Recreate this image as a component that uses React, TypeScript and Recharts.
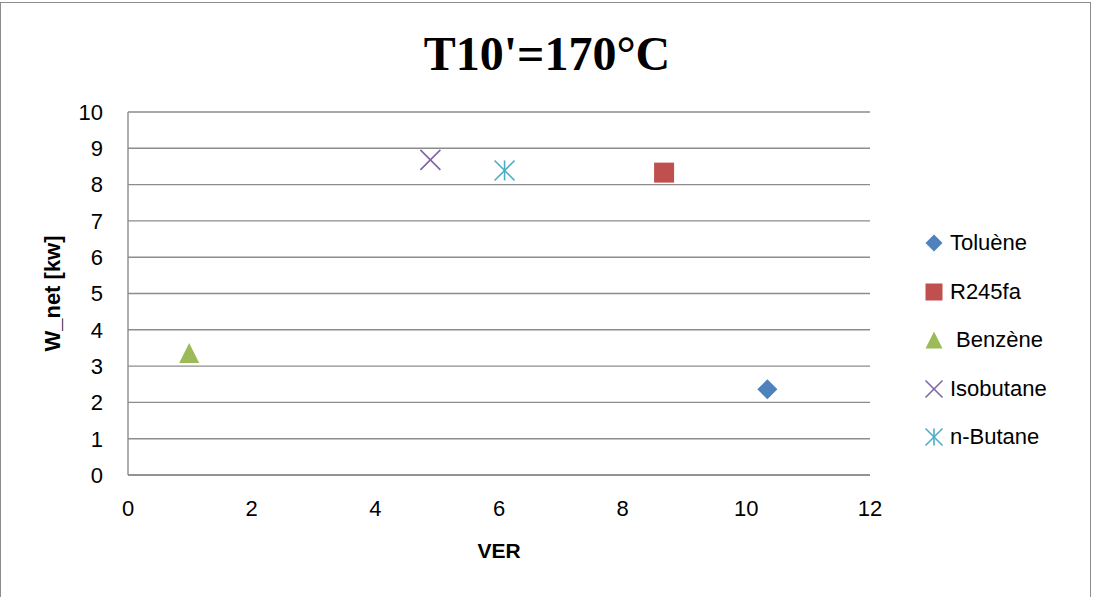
import React from 'react';
import { ScatterChart, Scatter, XAxis, YAxis, CartesianGrid, Legend } from 'recharts';

const chartTitle = "T10'=170°C";
const xAxisTitle = 'VER';
const yAxisTitle = 'W_net [kw]';
const xTicks = [0, 2, 4, 6, 8, 10, 12];
const yTicks = [0, 1, 2, 3, 4, 5, 6, 7, 8, 9, 10];

const tolueneData = [{ ver: 10.34, wnet: 2.36 }];
const r245faData = [{ ver: 8.67, wnet: 8.33 }];
const benzeneData = [{ ver: 0.99, wnet: 3.36 }];
const isobutaneData = [{ ver: 4.89, wnet: 8.68 }];
const nbutaneData = [{ ver: 6.09, wnet: 8.39 }];

const seriesNames = ['Toluène', 'R245fa', ' Benzène', 'Isobutane', 'n-Butane'];
const seriesColors = ['#4F81BD', '#C0504D', '#9BBB59', '#8064A2', '#4BACC6'];
const seriesShapes = ['diamond', 'square', 'triangle', 'x', 'star'];
const seriesData = [tolueneData, r245faData, benzeneData, isobutaneData, nbutaneData];

const FONT = '"Liberation Sans", Arial, sans-serif';
const LEGEND_W = 170;

function markerSvg(kind: string, cx: number, cy: number, color: string, s: number) {
  const h = s / 2;
  switch (kind) {
    case 'diamond':
      return <polygon points={`${cx},${cy - h} ${cx + h},${cy} ${cx},${cy + h} ${cx - h},${cy}`} fill={color} />;
    case 'square':
      return <rect x={cx - h} y={cy - h} width={s} height={s} fill={color} />;
    case 'triangle':
      return <polygon points={`${cx},${cy - h} ${cx + h},${cy + h} ${cx - h},${cy + h}`} fill={color} />;
    case 'x':
      return (
        <g stroke={color} strokeWidth={1.6}>
          <line x1={cx - h} y1={cy - h} x2={cx + h} y2={cy + h} />
          <line x1={cx - h} y1={cy + h} x2={cx + h} y2={cy - h} />
        </g>
      );
    default:
      return (
        <g stroke={color} strokeWidth={1.6}>
          <line x1={cx - h} y1={cy - h} x2={cx + h} y2={cy + h} />
          <line x1={cx - h} y1={cy + h} x2={cx + h} y2={cy - h} />
          <line x1={cx} y1={cy - h} x2={cx} y2={cy + h} />
        </g>
      );
  }
}

const makeShape = (kind: string, color: string) => (props: any) => {
  const { cx, cy } = props;
  if (cx == null || cy == null) return <g />;
  return <g>{markerSvg(kind, cx, cy, color, 20)}</g>;
};

const renderLegend = () => (
  <div style={{ fontFamily: FONT, fontSize: 22, color: '#000' }}>
    {seriesNames.map((name, i) => (
      <div key={name} style={{ height: 48.5, display: 'flex', alignItems: 'center' }}>
        <svg width={20} height={20} style={{ marginRight: 6 }}>
          {markerSvg(seriesShapes[i], 10, 10, seriesColors[i], 17)}
        </svg>
        <span style={{ whiteSpace: 'pre' }}>{name}</span>
      </div>
    ))}
  </div>
);

export default function App() {
  return (
    <div style={{ position: 'absolute', left: 0, top: 0, width: 1093, height: 597, background: '#fff', overflow: 'hidden' }}>
      <style>{`body{margin:0}`}</style>
      <div
        style={{
          position: 'absolute',
          left: 0,
          top: 2,
          width: 1091,
          height: 610,
          border: '1.5px solid #8c8c8c',
          boxSizing: 'border-box',
        }}
      />
      <ScatterChart width={1093} height={597} margin={{ top: 112, right: 223 - LEGEND_W, bottom: 20, left: 20 }}>
        <text
          x={547}
          y={70}
          textAnchor="middle"
          style={{ fontFamily: '"Liberation Serif", "Times New Roman", serif', fontWeight: 'bold', fontSize: 48 }}
          fill="#000"
        >
          {chartTitle}
        </text>
        <CartesianGrid vertical={false} stroke="#8c8c8c" strokeWidth={1.4} />
        <XAxis
          type="number"
          dataKey="ver"
          domain={[0, 12]}
          ticks={xTicks}
          interval={0}
          height={102}
          tickSize={0}
          tickMargin={25}
          axisLine={{ stroke: '#8c8c8c', strokeWidth: 1.4 }}
          tickLine={false}
          tick={{ fill: '#000', fontSize: 22, fontFamily: FONT }}
          label={(p: any) => {
            const vb = p.viewBox || {};
            return (
              <text x={vb.x + vb.width / 2} y={558} textAnchor="middle" fill="#000" style={{ fontFamily: FONT, fontWeight: 'bold', fontSize: 21 }}>
                {xAxisTitle}
              </text>
            );
          }}
        />
        <YAxis
          type="number"
          dataKey="wnet"
          domain={[0, 10]}
          ticks={yTicks}
          interval={0}
          width={108}
          tickSize={0}
          tickMargin={25}
          axisLine={{ stroke: '#8c8c8c', strokeWidth: 1.4 }}
          tickLine={false}
          tick={{ fill: '#000', fontSize: 22, fontFamily: FONT }}
          label={(p: any) => {
            const vb = p.viewBox || {};
            const lx = 52;
            const ly = vb.y + vb.height / 2;
            return (
              <text
                x={lx}
                y={ly}
                transform={`rotate(-90, ${lx}, ${ly})`}
                textAnchor="middle"
                dominantBaseline="central"
                fill="#000"
                style={{ fontFamily: FONT, fontWeight: 'bold', fontSize: 22 }}
              >
                {yAxisTitle}
              </text>
            );
          }}
        />
        <Legend
          layout="vertical"
          align="right"
          verticalAlign="top"
          content={renderLegend}
          wrapperStyle={{ position: 'absolute', left: 924, top: 219, width: LEGEND_W }}
        />
        {seriesNames.map((name, i) => (
          <Scatter
            key={name}
            name={name}
            data={seriesData[i]}
            fill={seriesColors[i]}
            shape={makeShape(seriesShapes[i], seriesColors[i])}
            isAnimationActive={false}
          />
        ))}
      </ScatterChart>
    </div>
  );
}
